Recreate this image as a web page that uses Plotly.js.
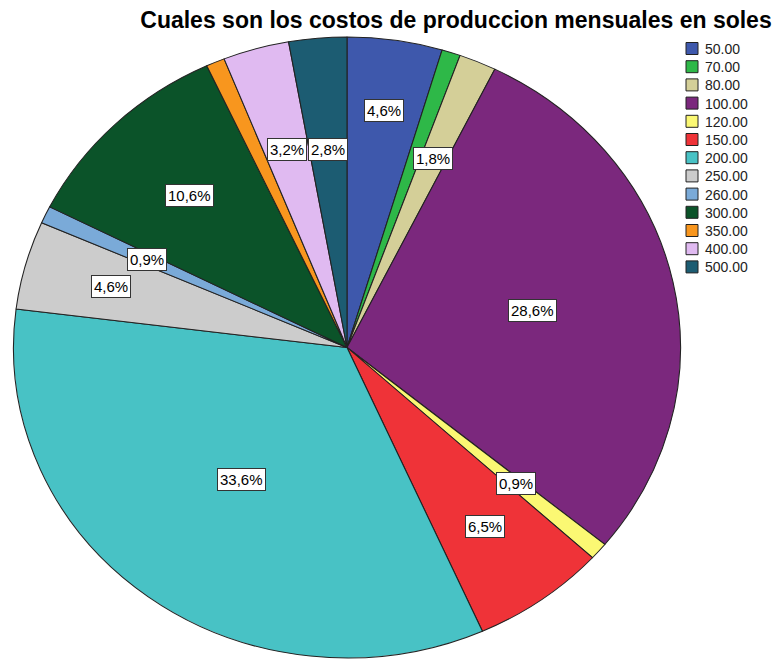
<!DOCTYPE html>
<html>
<head>
<meta charset="utf-8">
<script src="https://cdn.plot.ly/plotly-3.0.1.min.js"></script>
<style>html,body{margin:0;padding:0;background:#fff;}#chart{width:775px;height:660px;}</style>
</head>
<body>
<div id="chart"></div>
<script>
// ---- data ----
const categories = ["50.00","70.00","80.00","100.00","120.00","150.00","200.00","250.00","260.00","300.00","350.00","400.00","500.00"];
const percents   = [4.6, 0.9, 1.8, 28.6, 0.9, 6.5, 33.6, 4.6, 0.9, 10.6, 0.9, 3.2, 2.8];
const showLabel  = [true, false, true, true, true, true, true, true, true, true, false, true, true];

// ---- styles ----
const colors = ["#3E58AC","#2EB848","#D4CF98","#7B287D","#FBF873","#EF3338","#48C2C5","#CCCCCC","#7AAAD8","#0B5329","#F8961E","#E0BAF1","#1C5C72"];
const labelRadius = [0.77, 0.66, 0.66, 0.57, 0.67, 0.71, 0.53, 0.735, 0.665, 0.68, 0.66, 0.663, 0.64];

const W = 775, H = 660;
const cx = 347, cy = 347.5, ry = 310.5, rx = 333.5;
const sx = rx / ry;
const legendRowGap = 18.2, legendFirstRow = 48.5, legendTextShift = -7;

const total = percents.reduce((a, b) => a + b, 0);
const annotations = [];
let cum = 0;
percents.forEach((v, i) => {
  const mid = (cum + v / 2) / total * 2 * Math.PI;
  cum += v;
  if (!showLabel[i]) return;
  const px = cx + labelRadius[i] * rx * Math.sin(mid);
  const py = cy - labelRadius[i] * ry * Math.cos(mid);
  annotations.push({
    x: px / W, y: 1 - py / H, xref: 'paper', yref: 'paper',
    text: v.toFixed(1).replace('.', ',') + '%',
    showarrow: false,
    font: {family: 'Liberation Sans, Arial, sans-serif', size: 15, color: '#000'},
    bgcolor: '#ffffff', bordercolor: '#333333', borderwidth: 1, borderpad: 2,
    xanchor: 'center', yanchor: 'middle'
  });
});

const trace = {
  type: 'pie',
  labels: categories,
  values: percents,
  sort: false,
  direction: 'clockwise',
  rotation: 0,
  textinfo: 'none',
  hoverinfo: 'label+percent',
  marker: {colors: colors, line: {color: '#222', width: 1}},
  domain: {x: [(cx - ry) / W, (cx + ry) / W], y: [1 - (cy + ry) / H, 1 - (cy - ry) / H]}
};

const layout = {
  width: W, height: H,
  margin: {l: 0, r: 0, t: 0, b: 0},
  paper_bgcolor: '#fff',
  title: {
    text: '<b>Cuales son los costos de produccion mensuales en soles</b>',
    font: {family: 'Liberation Sans, Arial, sans-serif', size: 23, color: '#000'},
    x: 456 / W, xanchor: 'center', y: 1 - 20 / H, yanchor: 'middle', xref: 'container', yref: 'container'
  },
  showlegend: true,
  legend: {
    x: 672 / W, xanchor: 'left', y: 1 - 36 / H, yanchor: 'top',
    font: {family: 'Liberation Sans, Arial, sans-serif', size: 14, color: '#222'},
    bgcolor: 'rgba(0,0,0,0)', traceorder: 'normal'
  },
  annotations: annotations
};

Plotly.newPlot('chart', [trace], layout, {displayModeBar: false, staticPlot: true}).then(() => {
  const g = document.querySelector('#chart .pielayer');
  if (g) g.setAttribute('transform', `translate(${cx},0) scale(${sx},1) translate(${-cx},0)`);
  // tighten legend rows to match the reference spacing
  const items = Array.from(document.querySelectorAll('#chart .legend .traces'));
  if (items.length) {
    const parse = el => {
      const m = /translate\(\s*([-\d.]+)[ ,]+([-\d.]+)\s*\)/.exec(el.getAttribute('transform') || '');
      return m ? [parseFloat(m[1]), parseFloat(m[2])] : [0, 0];
    };
    const first = parse(items[0]);
    const sym = items[0].querySelector('.legendpoints path');
    let delta = 0;
    if (sym) {
      const r = sym.getBoundingClientRect();
      const c0 = document.getElementById('chart').getBoundingClientRect();
      delta = legendFirstRow - ((r.top + r.bottom) / 2 - c0.top);
    }
    items.forEach((el, i) => {
      const [tx] = parse(el);
      el.setAttribute('transform', `translate(${tx},${first[1] + delta + i * legendRowGap})`);
      const t = el.querySelector('.legendtext');
      if (t) t.setAttribute('transform', `translate(${legendTextShift},0)`);
    });
  }
});
</script>
</body>
</html>
